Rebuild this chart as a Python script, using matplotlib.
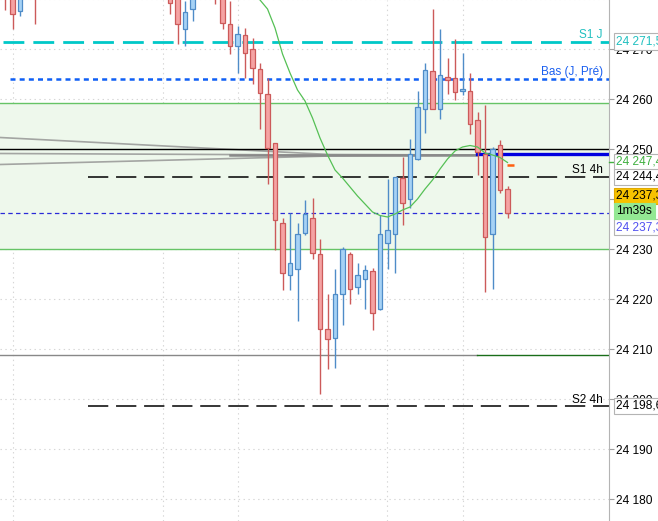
import matplotlib
matplotlib.use("Agg")
import matplotlib.pyplot as plt
import matplotlib.transforms as mtransforms
from matplotlib.ticker import FixedLocator, FuncFormatter

plt.rcParams['font.family'] = ['Liberation Sans', 'DejaVu Sans']
plt.rcParams['lines.scale_dashes'] = False

# candles (None = off the visible range)
opens = [24286, 24284, 24277.7, None, 24290] + [None] * 17 + [
    24284, 24283, 24273.9, 24277.9, None, None, 24290, 24284,
    24275.1, 24270.7, 24272.8, 24269.9, 24266.1, 24260.9, 24251.1, 24235.3,
    24224.7, 24226.1, 24233.3, 24236.3, 24228.9, 24213.9, 24212.3, 24221.1,
    24228.9, 24222.5, 24224.1, 24225.5, 24217.9, 24231.3, 24233.1, 24244.2,
    24239.9, 24248.1, 24258.1, 24265.5, 24258.1, 24264.4, 24264.3, 24261.7,
    24261.5, 24255.7, 24248.9, 24233.1, 24250.7, 24242.1]
highs = [24288, 24286, 24286, None, 24292] + [None] * 17 + [
    24286, 24285, 24279.6, 24286, None, None, 24292, 24286,
    24279.6, 24274.6, 24274.3, 24272.3, 24267.3, 24264.3, 24251.1, 24236.3,
    24237.3, 24235.3, 24239.8, 24240.3, 24232.1, 24221.1, 24226.0, 24230.5,
    24229.4, 24227.2, 24226.7, 24226.2, 24236.8, 24244.0, 24244.3, 24248.5,
    24252.0, 24261.6, 24267.2, 24278.0, 24274.0, 24268.2, 24272.0, 24269.2,
    24265.2, 24257.4, 24258.7, 24250.5, 24251.8, 24242.6]
lows = [24277.8, 24274, 24276.7, None, 24274.9] + [None] * 17 + [
    24276.9, 24270.9, 24270.7, 24275.7, None, None, 24279, 24273.9,
    24269.0, 24265.3, 24264.3, 24263.1, 24253.9, 24242.9, 24229.7, 24221.7,
    24221.8, 24215.6, 24232.7, 24228.0, 24201.0, 24205.9, 24206.3, 24214.7,
    24218.9, 24221.1, 24218.0, 24213.7, 24217.7, 24226.1, 24225.3, 24234.7,
    24238.3, 24247.7, 24253.3, 24257.9, 24255.9, 24261.0, 24259.8, 24260.8,
    24252.9, 24244.7, 24221.5, 24222.1, 24241.3, 24236.3]
closes = [24281, 24277.1, 24284, None, 24282] + [None] * 17 + [
    24279.3, 24274.9, 24277.3, 24284, None, None, 24283, 24275.3,
    24270.7, 24273.1, 24269.3, 24266.3, 24261.3, 24250.3, 24235.7, 24225.3,
    24227.1, 24233.1, 24237.1, 24229.3, 24213.9, 24212.1, 24220.9, 24230.1,
    24222.1, 24224.7, 24225.7, 24217.3, 24232.9, 24233.8, 24244.3, 24239.3,
    24249.1, 24258.3, 24265.7, 24257.9, 24264.7, 24263.8, 24261.5, 24262.0,
    24255.1, 24249.5, 24232.5, 24250.1, 24241.7, 24237.3]

# moving average, from candle 34 on
ma_start = 34
ma_values = [24279.8, 24278.0, 24274.2, 24269.0, 24265.2, 24261.8, 24259.6, 24256.2,
             24252.2, 24248.8, 24245.8, 24244.2, 24242.4, 24240.6, 24239.0, 24237.4,
             24236.7, 24236.4, 24237.0, 24237.8, 24238.4, 24240.0, 24242.0, 24243.8,
             24246.0, 24248.0, 24249.6, 24250.4, 24250.7, 24250.4, 24249.2, 24248.8,
             24248.3, 24247.3]

# levels
s1_day = 24271.5
low_prev_day = 24264.0
zone_top, zone_bottom = 24259.3, 24230.0
round_level = 24250.1
s1_4h = 24244.4
s2_4h = 24198.6
last_price = 24237.3
ma_last = 24247.4
blue_level = 24248.95
low_level = 24208.7
trend_left = [24252.3, 24249.1, 24246.9]
trend_join = [24248.9, 24248.8, 24248.6]
trend_flat = 24248.8

y_ticks = list(range(24180, 24290, 10))
x_grid = [1.1, 21.1, 31.0, 50.9, 61.0]

fig = plt.figure(figsize=(6.58, 5.21), dpi=100)
ax = fig.add_axes([0, 0, 609 / 658, 1])
x0, x1 = -0.667, 80.53
ax.set_xlim(x0, x1)
ax.set_ylim(24175.6, 24279.8)

# grid
for gx in x_grid:
    ax.axvline(gx, color='#d6d6d6', lw=0.8, ls=(0, (1, 2.5)), zorder=0)
for gy in y_ticks:
    ax.axhline(gy, color='#d6d6d6', lw=0.8, ls=(0, (1, 2.5)), zorder=0)

# green zone
ax.axhspan(zone_bottom, zone_top, color='#eef8ec', zorder=0.5, lw=0)
ax.axhline(zone_top, color='#66c466', lw=1.0, zorder=1)
ax.axhline(zone_bottom, color='#66c466', lw=1.0, zorder=1)

# trend lines (grey)
split = 62.93
for yl, yj in zip(trend_left, trend_join):
    ax.plot([x0, 43.3, split], [yl, yj, trend_flat], color='#909090', lw=1.2,
            alpha=0.8, zorder=1.5)
ax.plot([30, split], [trend_flat, trend_flat], color='#8a8a8a', lw=1.8, zorder=1.6)
ax.plot([split, x1], [blue_level, blue_level], color='#0000e0', lw=2.4, zorder=1.7)

ax.axhline(round_level, color='black', lw=1.0, zorder=1.8)
ax.plot([x0, split], [low_level, low_level], color='#888888', lw=1.0, zorder=1.8)
ax.plot([split, x1], [low_level, low_level], color='#1a6e1a', lw=1.0, zorder=1.8)

# dashed levels
ax.plot([-0.27, x1], [s1_day, s1_day], color='#00c8c8', lw=2.0, ls=(0, (15, 6.5)), zorder=1.9)
ax.plot([0.6, x1], [low_prev_day, low_prev_day], color='#0f5ff5', lw=1.8,
        ls=(0, (3.6, 3.0)), zorder=1.9)
ax.plot([11.07, x1], [s1_4h, s1_4h], color='black', lw=1.1, ls=(0, (14.6, 5.6)), zorder=1.9)
ax.plot([11.07, x1], [s2_4h, s2_4h], color='black', lw=1.1, ls=(0, (14.6, 5.6)), zorder=1.9)
ax.plot([x0, x1], [last_price, last_price], color='#2a2ad8', lw=0.9, ls=(0, (3.2, 2.4)),
        zorder=1.9)

# candles
for i, (o, h, l, c) in enumerate(zip(opens, highs, lows, closes)):
    if o is None:
        continue
    up = c >= o
    edge = '#4f8cc8' if up else '#cc5a5a'
    face = '#a6d2f5' if up else '#f5a3a3'
    ax.vlines(i, l, h, color=edge, lw=1.0, zorder=3)
    ax.bar(i, max(abs(c - o), 0.2), bottom=min(o, c), width=0.66, color=face,
           edgecolor=edge, linewidth=0.9, zorder=4)

ma_x = list(range(ma_start, ma_start + len(ma_values)))
ax.plot(ma_x, ma_values, color='#55c055', lw=0.9, zorder=5)
ax.plot([66.9, 67.9], [24246.7, 24246.7], color='#ff6010', lw=1.8, zorder=5,
        solid_capstyle='butt')

# level names inside chart
ax.text(79.7, 24272.8, 'S1 J', color='#20c0c0', fontsize=8.5, ha='right', va='center')
ax.text(79.7, 24265.3, 'Bas (J, Pré)', color='#1a5ff0', fontsize=8.5, ha='right', va='center')
ax.text(79.7, 24245.8, 'S1 4h', color='black', fontsize=8.5, ha='right', va='center')
ax.text(79.7, 24199.8, 'S2 4h', color='black', fontsize=8.5, ha='right', va='center')

# right price axis
for s in ['top', 'left', 'bottom']:
    ax.spines[s].set_visible(False)
ax.spines['right'].set_color('#b4b4b4')
ax.set_xticks([])
ax.yaxis.tick_right()
ax.yaxis.set_major_locator(FixedLocator(y_ticks))
ax.yaxis.set_major_formatter(FuncFormatter(lambda v, p: f"{int(round(v)):,}".replace(',', ' ')))
ax.tick_params(axis='y', length=3.6, width=0.8, color='#a0a0a0', pad=1.5,
               labelsize=8.6, labelcolor='black')
for t in ax.yaxis.get_major_ticks():
    if abs(t.get_loc() - 24250) < 0.5:
        t.label2.set_fontweight('bold')
        t.label2.set_fontsize(9.5)

tr = mtransforms.blended_transform_factory(fig.transFigure, ax.transData)
bx = 616.5 / 658


def tag(price, text, color, face='white', edge='#b4b4b4'):
    ax.text(bx, price, text, transform=tr, color=color, fontsize=8.6, ha='left',
            va='center', clip_on=False, zorder=10,
            bbox=dict(boxstyle='square,pad=0.2', fc=face, ec=edge, lw=0.8))


tag(s1_day, '24 271,5', '#20c0c0')
tag(ma_last, '24 247,4', '#40b040')
tag(s1_4h, '24 244,4', 'black')
tag(last_price - 2.9, '24 237,3', '#5050f0')
tag(last_price + 3.3, '24 237,3', 'black', face='#f7c200', edge='#e0a800')
tag(last_price + 0.3, '1m39s', 'black', face='#93e893', edge='#93e893')
tag(s2_4h, '24 198,6', 'black')
ax.plot([1.0, 1.007], [ma_last, ma_last], transform=mtransforms.blended_transform_factory(
    ax.transAxes, ax.transData), color='#40b040', lw=1, clip_on=False, zorder=9)

fig.savefig('out.png', dpi=100)
